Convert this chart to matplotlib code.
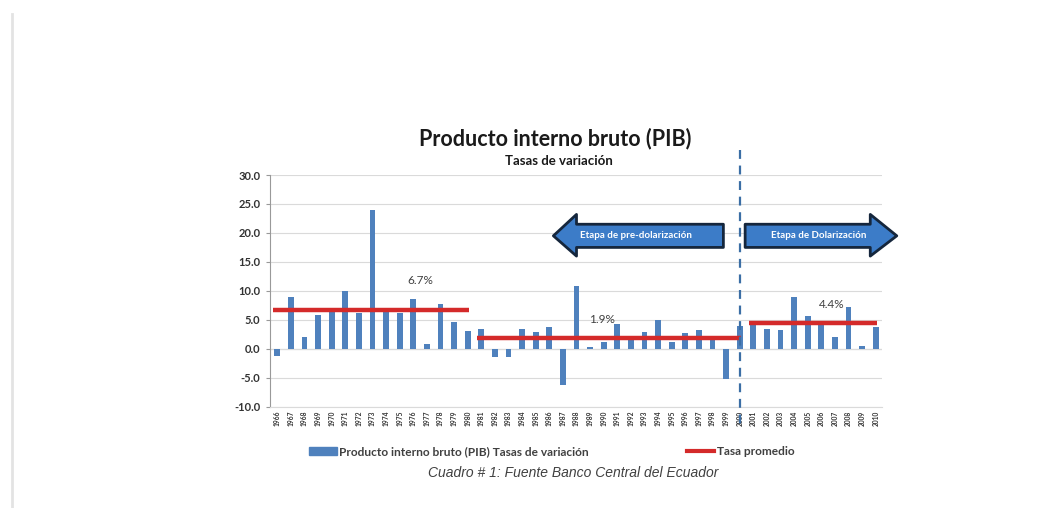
import matplotlib.pyplot as plt
from matplotlib.patches import Patch, Polygon
from matplotlib.lines import Line2D

years = list(range(1966, 2011))
pib = [-1.3, 8.9, 2.0, 5.9, 7.1, 9.9, 6.2, 23.9, 6.3, 6.2,
       8.6, 0.8, 7.7, 4.6, 3.1, 3.4, -1.4, -1.4, 3.5, 2.9,
       3.7, -6.3, 10.8, 0.3, 1.1, 4.3, 1.8, 2.9, 4.9, 1.2,
       2.8, 3.3, 1.8, -5.3, 4.0, 4.4, 3.4, 3.2, 8.9, 5.7,
       4.2, 2.1, 7.2, 0.4, 3.7]

# average rate per period: (first year, last year, value)
periodos = [(1966, 1980, 6.7), (1981, 2000, 1.9), (2001, 2010, 4.4)]
etiquetas = ["6.7%", "1.9%", "4.4%"]
etiq_pos = [(1976.5, 11.8), (1989.9, 5.1), (2006.8, 7.6)]

plt.rcParams['font.family'] = ['Lato', 'DejaVu Sans']

fig = plt.figure(figsize=(10.57, 5.08), dpi=100)
ax = fig.add_axes([0.2554, 0.1994, 0.579, 0.4561])

blue = '#4f81bd'
red = '#d42a2a'

ax.bar(years, pib, width=0.42, color=blue, zorder=2)

for (a, b, v) in periodos:
    ax.plot([a - 0.3, b + 0.1], [v, v], color=red, lw=3.2, zorder=3, solid_capstyle='butt')

for txt, (x, y) in zip(etiquetas, etiq_pos):
    ax.text(x, y, txt, ha='center', va='center', fontsize=8.5, color='#404040', zorder=4)

ax.set_xlim(1965.46, 2010.46)
ax.set_ylim(-10, 30)
ax.set_yticks(range(-10, 31, 5))
ax.set_yticklabels(['%.1f' % v for v in range(-10, 31, 5)], fontsize=8, fontweight='bold', color='#333333')
ax.set_xticks(years)
ax.set_xticklabels([str(y) for y in years], rotation=90, fontsize=4.8, fontweight='bold', color='#333333')
ax.tick_params(axis='x', length=0, pad=3)
ax.tick_params(axis='y', length=3, pad=4, color='#999999')
ax.grid(axis='y', color='#dadada', lw=0.8, zorder=0)
for s in ['top', 'right']:
    ax.spines[s].set_visible(False)
ax.spines['bottom'].set_color('#dadada')
ax.spines['left'].set_color('#999999')
ax.axhline(0, color='#b0b0b0', lw=0.8, zorder=1)

# dashed separator at 2000
ax.plot([2000, 2000], [34.4, -13.4], color='#3b6ea5', lw=1.6, ls=(0, (4, 3)), clip_on=False, zorder=5)

# period arrows
def flecha(x_cola, x_base, x_punta, texto, tx):
    pts = [(x_cola, 17.5), (x_base, 17.5), (x_base, 16.0), (x_punta, 19.5),
           (x_base, 23.2), (x_base, 21.5), (x_cola, 21.5)]
    ax.add_patch(Polygon(pts, closed=True, facecolor='#3c7cc8', edgecolor='#15263c',
                         lw=2, clip_on=False, zorder=6, joinstyle='round'))
    ax.text(tx, 19.6, texto, ha='center', va='center', fontsize=7, fontweight='bold',
            color='white', zorder=7, clip_on=False)

flecha(1998.8, 1988.0, 1986.3, 'Etapa de pre-dolarización', 1992.4)
flecha(2000.4, 2009.6, 2011.55, 'Etapa de Dolarización', 2005.8)

fig.text(0.525, 0.728, 'Producto interno bruto (PIB)', ha='center', va='center',
         fontsize=15.5, fontweight='bold', color='#1a1a1a')
fig.text(0.529, 0.684, 'Tasas de variación', ha='center', va='center',
         fontsize=9.5, fontweight='bold', color='#1a1a1a')

handles = [Patch(color=blue), Line2D([0], [0], color=red, lw=3)]
leg = fig.legend(handles, ['Producto interno bruto (PIB) Tasas de variación', 'Tasa promedio'],
                 loc='center', bbox_to_anchor=(0.522, 0.111), ncol=2, frameon=False,
                 prop={'size': 8.6, 'weight': 'bold'}, columnspacing=8.2, handlelength=2.3,
                 handletextpad=0.2)
for t in leg.get_texts():
    t.set_color('#404040')

fig.text(0.542, 0.069, 'Cuadro # 1: Fuente Banco Central del Ecuador', ha='center', va='center',
         fontsize=10, style='italic', color='#404040', family='Liberation Sans')

fig.add_artist(Line2D([0.0114, 0.0114], [0.0, 0.972], color='#e3e3e3', lw=2))

fig.savefig('out.png', dpi=100)
